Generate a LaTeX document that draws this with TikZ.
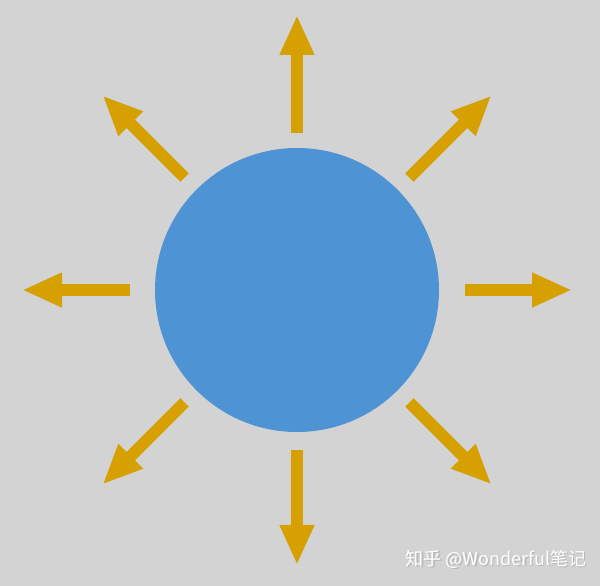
\documentclass[tikz,border=0pt]{standalone}
\usepackage{fontspec}
\newfontfamily\cjk{Noto Sans CJK SC}
\usetikzlibrary{arrows.meta,calc}
\definecolor{bg}{HTML}{D3D3D3}
\definecolor{sunblue}{HTML}{4E93D4}
\definecolor{gold}{HTML}{D5A000}
\tikzset{
  ray/.style={draw=gold,line width=12pt,-{Triangle[length=40pt,width=32pt]}},
  sun/.style={circle,fill=sunblue,minimum size=284pt,inner sep=0pt},
}
\newcommand{\wmtext}{知乎 @Wonderful笔记}
\begin{document}
\begin{tikzpicture}[x=1pt,y=1pt]
\fill[bg] (0,0) rectangle (600,586);
\useasboundingbox (0,0) rectangle (600,586);
\node[sun] (sun) at (297,296) {};
\foreach \a/\s in {0/168,45/159,90/157,135/159,180/167,225/159,270/160,315/159}{
  \coordinate (s\a) at ($(sun.center)+(\a:\s)$);
  \coordinate (e\a) at ($(sun.center)+(\a:275)$);
  \draw[ray] (s\a) -- (e\a);
}
\node[font=\cjk\fontsize{18}{20}\selectfont,anchor=center] (wm) at (496,26)
  {\makebox[0pt][l]{\hspace{1.5pt}\raisebox{-1.5pt}{\textcolor{black!28}{\wmtext}}}\textcolor{white}{\wmtext}};
\end{tikzpicture}
\end{document}
